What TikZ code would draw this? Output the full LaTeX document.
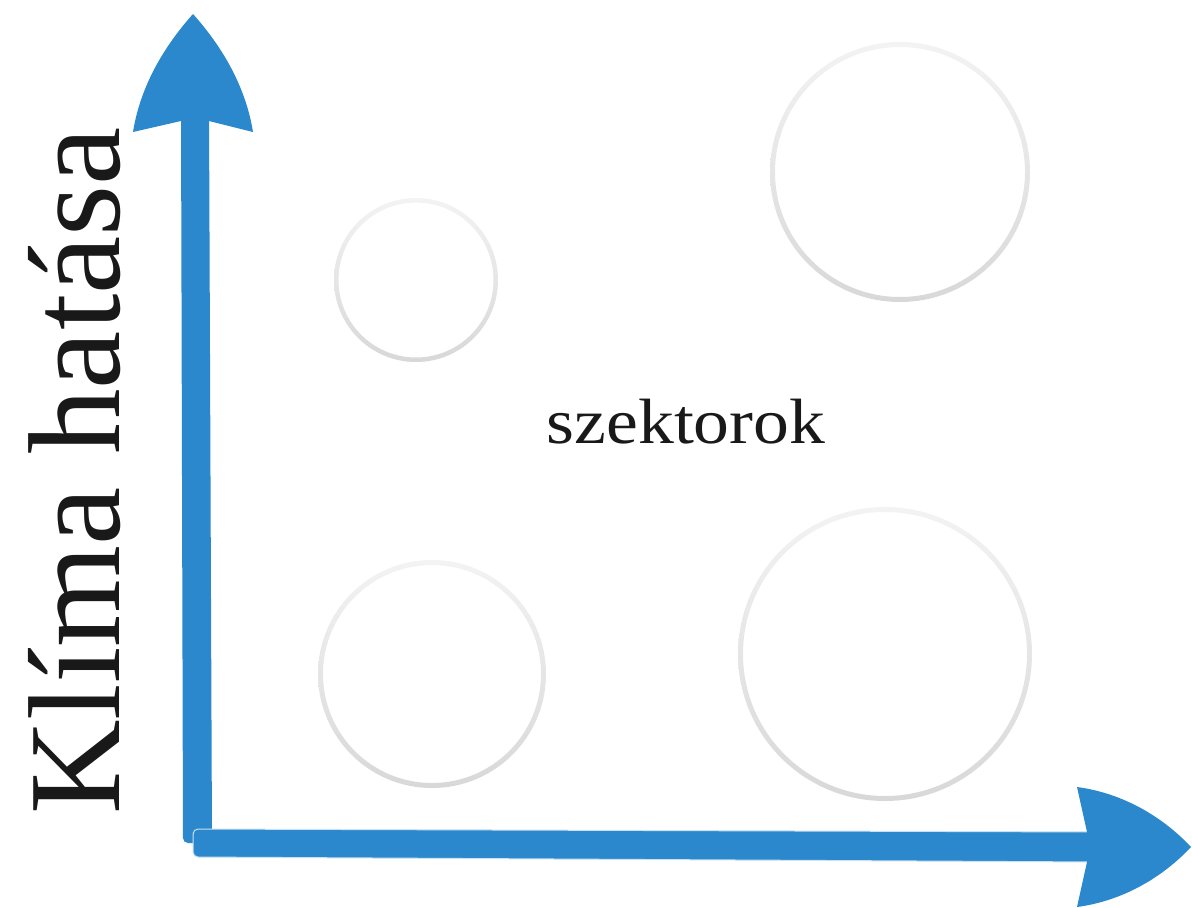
\documentclass[tikz,border=0pt]{standalone}
\usepackage{fontspec}
\setmainfont{Liberation Serif}
\definecolor{axisblue}{HTML}{2B88CD}
\definecolor{ringtop}{HTML}{F3F3F3}
\definecolor{ringbot}{HTML}{D8D8D8}
\begin{document}
\begin{tikzpicture}[x=1pt,y=-1pt,
  axis/.style={fill=axisblue,draw=none},
  ring/.style={shade,top color=ringtop,bottom color=ringbot,even odd rule},
  lbl/.style={inner sep=0pt,text=black!90}]
\useasboundingbox (0,0) rectangle (1192,908);
% vertical axis
\path[axis,rounded corners=5pt] (181,110) -- (209,110) -- (212,843) -- (183,843) -- cycle;
\path[axis] (193,14) .. controls (168,42) and (141,82) .. (133,132)
   -- (181,121) -- (209,121) -- (253,132)
   .. controls (245,82) and (218,42) .. (193,14) -- cycle;
% horizontal axis
\path[axis,draw=white!75!axisblue,line width=1pt,rounded corners=5pt] (193,829) -- (1100,832) -- (1100,862) -- (193,857) -- cycle;
\path[axis] (1191,847) .. controls (1162,816) and (1122,793) .. (1077,787)
   -- (1087,832) -- (1087,862) -- (1077,907)
   .. controls (1122,901) and (1162,878) .. (1191,847) -- cycle;
% rings
\path[ring] (416,280) circle (82) (416,280) circle (77.5);
\path[ring] (900,172) circle (130) (900,172) circle (125);
\path[ring] (432,674) circle (114) (432,674) circle (109);
\path[ring] (885,654) circle (147) (885,654) circle (142);
% labels
\node[lbl,anchor=base] (sz) at (686,443) {\scalebox{1.12}[1]{\fontsize{64}{64}\selectfont szektorok}};
\node[lbl,anchor=base,rotate=90] (kl) at (119,471) {\fontsize{131}{131}\selectfont Klíma hatása};
\end{tikzpicture}
\end{document}
